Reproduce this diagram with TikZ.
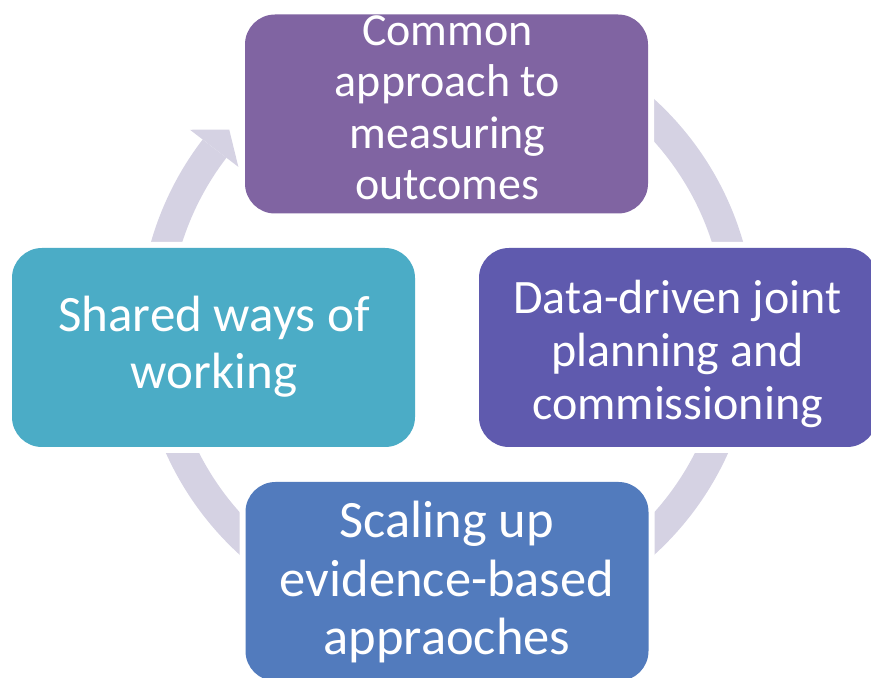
\documentclass[tikz,border=0pt]{standalone}
\usepackage{fontspec}
\setmainfont{Carlito}

\definecolor{ringgray}{HTML}{D5D2E3}
\definecolor{measurepurple}{HTML}{8064A2}
\definecolor{planviolet}{HTML}{5F5AAE}
\definecolor{scaleblue}{HTML}{527BBD}
\definecolor{sharedteal}{HTML}{4BACC6}

\begin{document}
\begin{tikzpicture}[
  x=1pt, y=1pt,
  cyclebox/.style={rectangle, rounded corners=30pt, minimum width=403pt, minimum height=199pt, inner sep=0pt, preaction={draw=white, line width=12pt}},
  boxtext/.style={align=center, text=white, inner sep=0pt},
  ring/.style={draw=ringgray, line width=30pt}
]
\useasboundingbox (0,0) rectangle (871,678);
\clip (0,0) rectangle (871,678);

% Ring with its arrow head
\coordinate (hub) at (447,351);
\draw[ring] ([shift={(90:293)}]hub) arc[start angle=90, end angle=-217.5, radius=293];
\fill[ringgray, shift={(hub)}] (142.5:263) -- (137.8:294) -- (142.5:324) -- cycle;

% Boxes
\node[cyclebox, fill=measurepurple] (measure) at (446.5,564) {};
\node[cyclebox, fill=planviolet, minimum width=398pt] (plan) at (678,330.5) {};
\node[cyclebox, fill=scaleblue] (scale) at (447,96.5) {};
\node[cyclebox, fill=sharedteal] (shared) at (213.5,330.5) {};

% Texts
\node[boxtext, font=\fontsize{46}{51.5}\selectfont] (measure-text) at ([shift={(1,2)}]measure.center) {
  \strut Common\\
  \strut approach to\\
  \strut measuring\\
  \strut outcomes
};
\node[boxtext, font=\fontsize{48}{53}\selectfont] (plan-text) at ([shift={(-0.5,-8.9)}]plan.center) {
  \strut Data-driven joint\\
  \strut planning and\\
  \strut commissioning
};
\node[boxtext, font=\fontsize{52.5}{58.5}\selectfont] (scale-text) at ([shift={(0,-3.3)}]scale.center) {
  \strut Scaling up\\
  \strut evidence-based\\
  \strut appraoches
};
\node[boxtext, font=\fontsize{51}{57}\selectfont] (shared-text) at ([shift={(0.5,-1.1)}]shared.center) {
  \strut Shared ways of\\
  \strut working
};

\end{tikzpicture}
\end{document}
